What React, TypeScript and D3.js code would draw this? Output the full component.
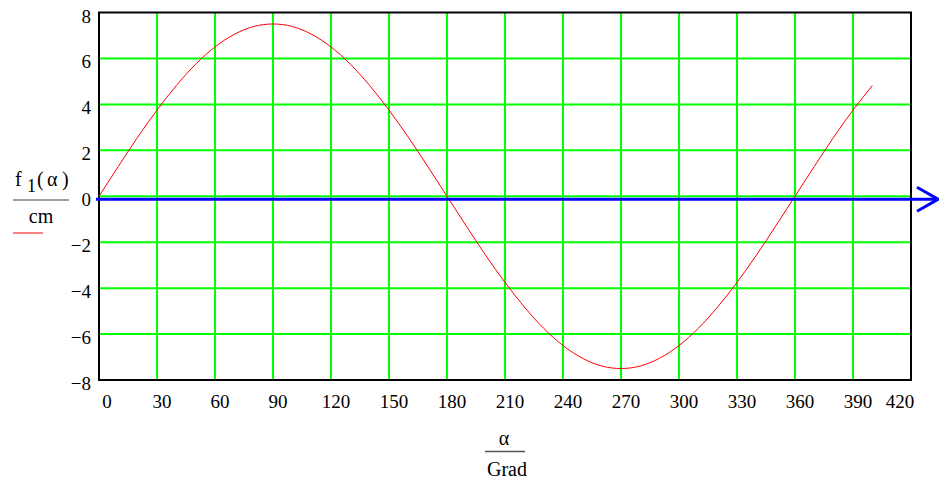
import React from 'react';
import * as d3 from 'd3';

// alpha in degrees, f1 in cm
const alphaDeg = [0, 10, 20, 30, 40, 50, 60, 70, 80, 90, 100, 110, 120, 130, 140, 150, 160, 170, 180,
  190, 200, 210, 220, 230, 240, 250, 260, 270, 280, 290, 300, 310, 320, 330, 340, 350, 360,
  370, 380, 390, 400];
const f1Values = [0, 1.3, 2.57, 3.75, 4.82, 5.75, 6.5, 7.05, 7.39, 7.5, 7.39, 7.05, 6.5, 5.75, 4.82, 3.75, 2.57, 1.3, 0,
  -1.3, -2.57, -3.75, -4.82, -5.75, -6.5, -7.05, -7.39, -7.5, -7.39, -7.05, -6.5, -5.75, -4.82, -3.75, -2.57, -1.3, 0,
  1.3, 2.57, 3.75, 4.82];
const xTicks = [0, 30, 60, 90, 120, 150, 180, 210, 240, 270, 300, 330, 360, 390, 420];
const yTicks = [-8, -6, -4, -2, 0, 2, 4, 6, 8];

const W = 939;
const H = 482;
const left = 99;
const right = 911;
const top = 12.5;
const bottom = 380;

const serif = { fontFamily: "'Liberation Serif', 'Times New Roman', serif" };

export default function App() {
  const x = d3.scaleLinear().domain([0, 420]).range([left, right]);
  const y = d3.scaleLinear().domain([-8, 8]).range([bottom, top]);
  const fmt = d3.format('');

  const line = d3.line<number>()
    .x((_, i) => x(alphaDeg[i]))
    .y(d => y(d))
    .curve(d3.curveNatural);

  const zeroY = y(0) + 3;

  // keep first and last x labels inside the frame, like the original
  const xLabelPos = (t: number) => (t === 0 ? x(t) + 8 : t === 420 ? x(t) - 11 : x(t) + 5);

  return (
    <div style={{ position: 'absolute', left: 0, top: 0 }}>
      <svg width={W} height={H} style={{ display: 'block', background: '#fff' }}>
        {/* grid */}
        <g stroke="#00ff00" strokeWidth={2}>
          {xTicks.slice(1, -1).map(t => (
            <line key={'gx' + t} x1={x(t)} x2={x(t)} y1={top} y2={bottom} />
          ))}
          {yTicks.slice(1, -1).map(t => (
            <line key={'gy' + t} x1={left} x2={right} y1={y(t)} y2={y(t)} />
          ))}
        </g>
        {/* frame */}
        <rect x={left} y={top} width={right - left} height={bottom - top}
          fill="none" stroke="#000" strokeWidth={2} />

        {/* curve */}
        <path d={line(f1Values) || ''} fill="none" stroke="#ff0000" strokeWidth={1} />

        {/* alpha axis arrow */}
        <g stroke="#0000ff" strokeWidth={3} fill="none">
          <line x1={left - 3} x2={W - 1} y1={zeroY} y2={zeroY} />
          <polyline points={`${W - 22},${zeroY - 12} ${W - 1},${zeroY} ${W - 22},${zeroY + 12}`} />
        </g>

        {/* y tick labels */}
        <g style={serif} fontSize={19} fill="#000" textAnchor="end">
          {yTicks.map(t => (
            <text key={'yl' + t} x={left - 8} y={y(t) + 10}>{fmt(t)}</text>
          ))}
        </g>
        {/* x tick labels */}
        <g style={serif} fontSize={19} fill="#000" textAnchor="middle">
          {xTicks.map(t => (
            <text key={'xl' + t} x={xLabelPos(t)} y={408}>{fmt(t)}</text>
          ))}
        </g>

        {/* y axis label */}
        <g style={serif} fill="#000" fontSize={20}>
          <text x={15} y={186}>f</text>
          <text x={27} y={192} fontSize={18}>1</text>
          <text x={37} y={186}>(</text>
          <text x={47} y={186}>α</text>
          <text x={62} y={186}>)</text>
          <line x1={13} x2={69} y1={200} y2={200} stroke="#808080" strokeWidth={1.5} />
          <text x={41} y={223} textAnchor="middle">cm</text>
          <line x1={13} x2={43} y1={233} y2={233} stroke="#ff8080" strokeWidth={2} />
        </g>

        {/* x axis label */}
        <g style={serif} fill="#000" textAnchor="middle" fontSize={20}>
          <text x={504} y={445}>α</text>
          <line x1={485} x2={525} y1={451.5} y2={451.5} stroke="#555" strokeWidth={1.5} />
          <text x={507} y={476}>Grad</text>
        </g>
      </svg>
    </div>
  );
}
